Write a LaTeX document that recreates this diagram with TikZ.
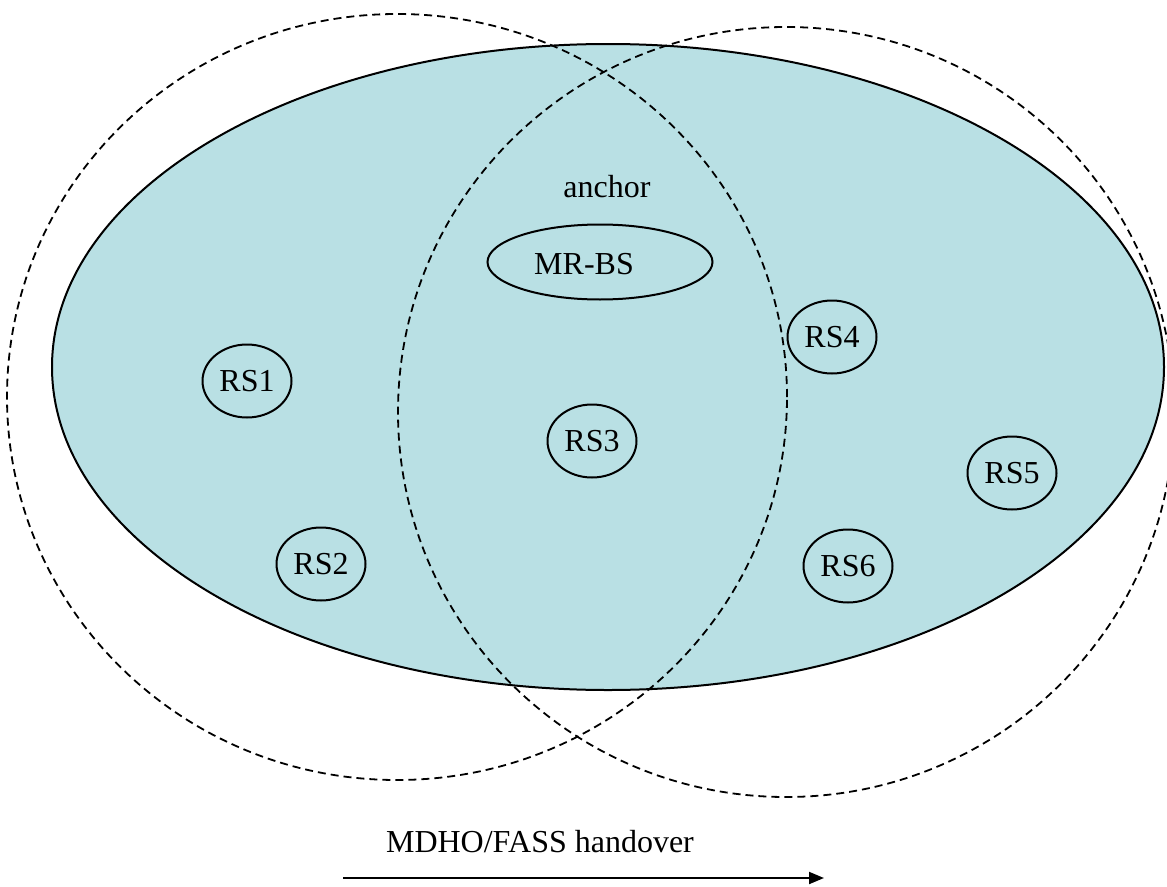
\documentclass[tikz,border=0pt]{standalone}
\usepackage{fontspec}
\setmainfont{Liberation Serif}
\usetikzlibrary{shapes.geometric,arrows.meta}
\definecolor{cellfill}{RGB}{185,224,228}
\begin{document}
\begin{tikzpicture}[x=1pt,y=-1pt]

      \tikzset{station/.style={draw, ellipse, line width=2pt, inner sep=0pt, minimum width=89pt, minimum height=73pt},
               coverage/.style={draw, ellipse, line width=1.8pt, dash pattern=on 8pt off 5pt, inner sep=0pt},
               every node/.style={font=\fontsize{32}{36}\selectfont}}
      \useasboundingbox (0,0) rectangle (1167,886);
%% Cell
      	\node[draw, ellipse, line width=2pt, fill=cellfill, inner sep=0pt, minimum width=1112pt, minimum height=646pt] (cell) at (608,367) {};
%% Coverage areas
      	\node[coverage, minimum width=780pt, minimum height=766pt] (left) at (397,397) {};
      	\node[coverage, minimum width=776pt, minimum height=770pt] (right) at (786,412) {};
%% Stations
      	\node (anchor) at (607,187) {anchor};
      	\node[draw, ellipse, line width=2pt, minimum width=225pt, minimum height=75pt] (bs) at (600,262) {};
      	\node (bslabel) at (584,264) {MR-BS};
      	\node[station] (rs1) at (247,381) {RS1};
      	\node[station] (rs2) at (321,564) {RS2};
      	\node[station] (rs3) at (592,441) {RS3};
      	\node[station] (rs4) at (832,337) {RS4};
      	\node[station] (rs5) at (1012,473) {RS5};
      	\node[station] (rs6) at (848,566) {RS6};
%% Handover
      	\node (ho) at (540,842) {MDHO/FASS handover};
      	\coordinate (hostart) at (343,878);
      	\coordinate (hoend) at (824,878);
		\draw[line width=2pt, -{Triangle[length=15pt,width=12pt]}] (hostart) -- (hoend);

	\end{tikzpicture}
\end{document}
